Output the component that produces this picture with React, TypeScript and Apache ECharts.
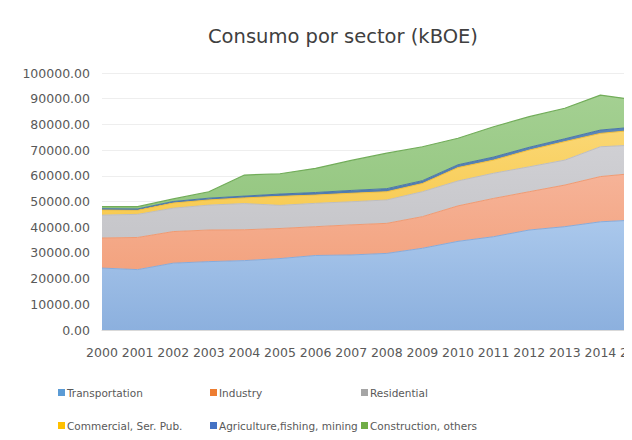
import React, { useEffect, useRef } from "react";
import * as echarts from "echarts";

const years = ["2000","2001","2002","2003","2004","2005","2006","2007","2008","2009","2010","2011","2012","2013","2014","2015"];
const transportation = [24100, 23500, 26000, 26600, 27000, 27800, 29000, 29200, 29800, 31800, 34500, 36300, 38900, 40200, 42100, 42800];
const industry = [11700, 12500, 12300, 12300, 12000, 11700, 11200, 11700, 11700, 12300, 13800, 14900, 14900, 16200, 17600, 18200];
const residential = [8900, 9000, 9100, 9700, 10200, 9000, 9100, 9000, 9100, 9700, 9700, 9800, 9700, 9700, 11600, 11000];
const commercial = [2000, 1600, 2000, 2000, 2200, 3500, 3200, 3300, 3200, 3200, 5200, 5100, 6500, 7200, 5200, 5800];
const agriculture = [500, 500, 600, 700, 700, 900, 1000, 1100, 1200, 1100, 1100, 1200, 1100, 1100, 1300, 1200];
const construction = [800, 900, 1000, 2500, 8200, 7900, 9400, 11700, 13800, 13200, 10300, 11800, 11900, 11900, 13600, 10500];
const yTicks = { min: 0, max: 100000, interval: 10000 };

const seriesDefs = [
  { name: "Transportation", data: transportation, top: "#aac8ec", bottom: "#8cb0de", line: "#86abdb", lw: 1, icon: "#5b9bd5" },
  { name: "Industry", data: industry, top: "#f6b398", bottom: "#f3a37f", line: "#ef9a72", lw: 1, icon: "#ed7d31" },
  { name: "Residential", data: residential, top: "#d0d0d4", bottom: "#c6c6ca", line: "#bdbdc1", lw: 1, icon: "#a5a5a5" },
  { name: "Commercial, Ser. Pub.", data: commercial, top: "#fad774", bottom: "#f8cb52", line: "#f5c03a", lw: 1, icon: "#ffc000" },
  { name: "Agriculture,fishing, mining", data: agriculture, top: "#5b86b8", bottom: "#4f7aad", line: "#4a76aa", lw: 1, icon: "#4472c4" },
  { name: "Construction, others", data: construction, top: "#a4d092", bottom: "#95c781", line: "#72ad5a", lw: 1.2, icon: "#70ad47" },
];

const legendPos = [
  { left: 53, top: 382 },
  { left: 205, top: 382 },
  { left: 356, top: 382 },
  { left: 53, top: 415 },
  { left: 205, top: 415 },
  { left: 356, top: 415 },
];

export default function App() {
  const ref = useRef<HTMLDivElement>(null);
  useEffect(() => {
    if (!ref.current) return;
    const chart = echarts.init(ref.current, null, { renderer: "svg" });
    chart.setOption({
      animation: false,
      backgroundColor: "#ffffff",
      title: {
        text: "Consumo por sector (kBOE)",
        left: 203,
        top: 21,
        textStyle: { fontFamily: "DejaVu Sans", fontSize: 19.5, fontWeight: "normal", color: "#404040" },
      },
      legend: seriesDefs.map((s, i) => ({
        data: [{ name: s.name, itemStyle: { color: s.icon } }],
        left: legendPos[i].left,
        top: legendPos[i].top,
        icon: "rect",
        itemWidth: 7,
        itemHeight: 7,
        itemGap: 4,
        selectedMode: false,
        textStyle: { fontFamily: "DejaVu Sans", fontSize: 10.5, color: "#595959", padding: [0, 0, 0, -3] },
      })),
      grid: { left: 102, right: -4, top: 73, bottom: 110, containLabel: false, outerBoundsMode: "none" },
      xAxis: {
        type: "category",
        data: years,
        boundaryGap: false,
        axisLine: { show: true, lineStyle: { color: "#d9d9d9" } },
        axisTick: { show: false },
        axisLabel: { fontFamily: "DejaVu Sans", fontSize: 12.5, color: "#595959", margin: 16, interval: 0, hideOverlap: false },
        splitLine: { show: false },
      },
      yAxis: {
        type: "value",
        min: yTicks.min,
        max: yTicks.max,
        interval: yTicks.interval,
        axisLine: { show: false },
        axisTick: { show: false },
        axisLabel: {
          fontFamily: "DejaVu Sans",
          fontSize: 12.5,
          color: "#595959",
          margin: 12,
          formatter: (v: number) => v.toFixed(2),
        },
        splitLine: { show: true, lineStyle: { color: "#eeeeee", width: 1 } },
      },
      series: seriesDefs.map((s) => ({
        name: s.name,
        type: "line",
        stack: "total",
        data: s.data,
        symbol: "none",
        lineStyle: { color: s.line, width: s.lw },
        itemStyle: { color: s.icon },
        areaStyle: {
          opacity: 1,
          color: new echarts.graphic.LinearGradient(0, 0, 0, 1, [
            { offset: 0, color: s.top },
            { offset: 1, color: s.bottom },
          ]),
        },
      })),
    });
    return () => chart.dispose();
  }, []);
  return <div ref={ref} style={{ width: 632, height: 440, margin: -8 }} />;
}
